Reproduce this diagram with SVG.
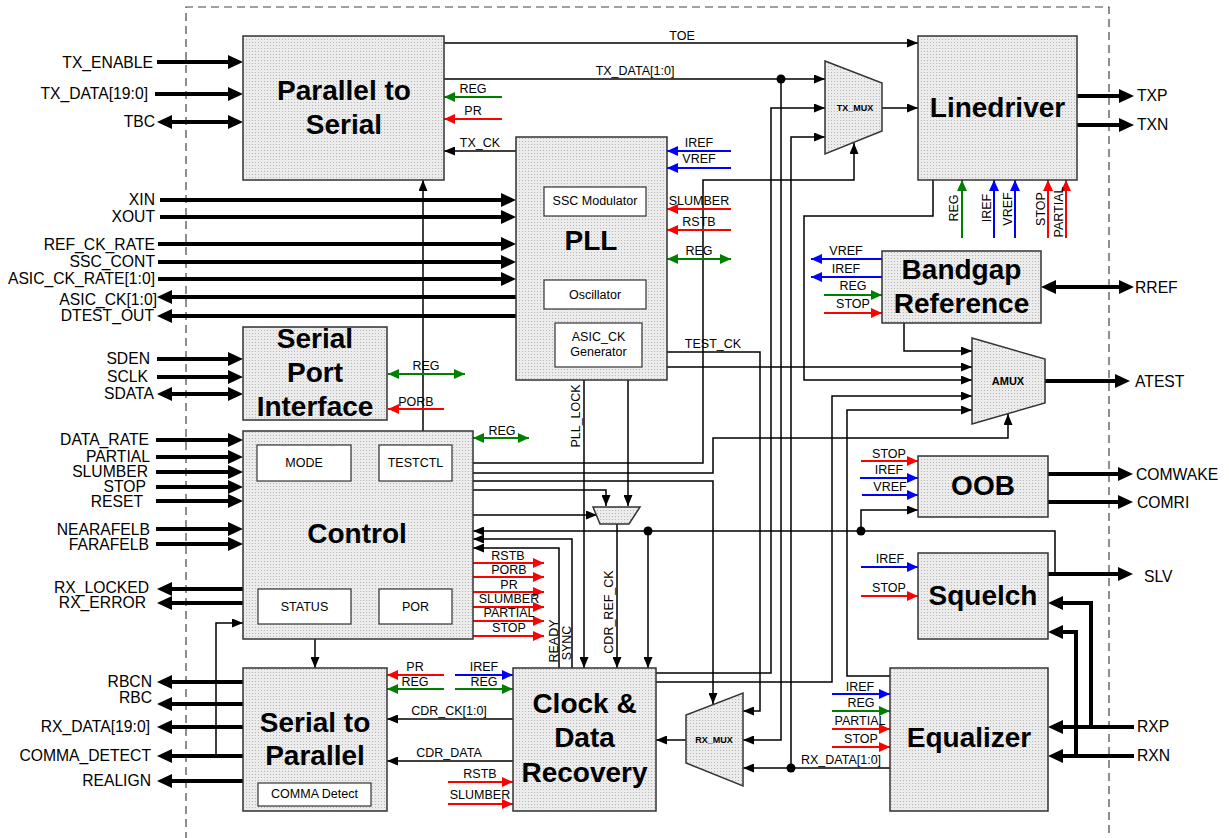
<svg xmlns="http://www.w3.org/2000/svg" width="1229" height="838" viewBox="0 0 1229 838">
<defs>
<pattern id="dots" width="3" height="3" patternUnits="userSpaceOnUse"><rect width="3" height="3" fill="#ececec"/><rect width="1" height="1" fill="#b5b5b5"/></pattern>
<marker id="mk" markerUnits="userSpaceOnUse" markerWidth="11" markerHeight="9" refX="11" refY="4.5" orient="auto-start-reverse"><path d="M0,0 L11,4.5 L0,9 z" fill="#000"/></marker>
<marker id="MK" markerUnits="userSpaceOnUse" markerWidth="15" markerHeight="14" refX="11" refY="7" orient="auto-start-reverse"><path d="M0,0 L15,7 L0,14 z" fill="#000"/></marker>
<marker id="mr" markerUnits="userSpaceOnUse" markerWidth="11" markerHeight="10" refX="11" refY="5" orient="auto-start-reverse"><path d="M0,0 L11,5 L0,10 z" fill="#ff0000"/></marker>
<marker id="mb" markerUnits="userSpaceOnUse" markerWidth="11" markerHeight="10" refX="11" refY="5" orient="auto-start-reverse"><path d="M0,0 L11,5 L0,10 z" fill="#0000ff"/></marker>
<marker id="mg" markerUnits="userSpaceOnUse" markerWidth="11" markerHeight="10" refX="11" refY="5" orient="auto-start-reverse"><path d="M0,0 L11,5 L0,10 z" fill="#008000"/></marker>
</defs>
<style>
text{font-family:"Liberation Sans",Arial,sans-serif;fill:#000}
.blk{fill:url(#dots);stroke:#333;stroke-width:1.5}
.sub{fill:#fff;stroke:#333;stroke-width:1.2}
.tt{font-weight:bold;font-size:28px;text-anchor:middle}
.st{font-size:12.5px;text-anchor:middle}
.mx{font-weight:bold;font-size:9px;text-anchor:middle}
.L{font-size:15.7px;text-anchor:end}
.R{font-size:15.7px;text-anchor:start}
.s{font-size:12.5px;text-anchor:middle}
.t{stroke:#000;stroke-width:1.5;fill:none;marker-end:url(#mk)}
.T{stroke:#000;stroke-width:4;fill:none;marker-end:url(#MK)}
.T2{marker-start:url(#MK)}
.r{stroke:#ff0000;stroke-width:2;fill:none;marker-end:url(#mr)}
.b{stroke:#0000ff;stroke-width:2;fill:none;marker-end:url(#mb)}
.g{stroke:#008000;stroke-width:2;fill:none;marker-end:url(#mg)}
.g2{marker-start:url(#mg)}
</style>
<rect width="1229" height="838" fill="#fff"/>
<path d="M186,840 V7 H1109 V840" fill="none" stroke="#444" stroke-width="1.2" stroke-dasharray="8,5"/>

<g id="connectors">
<path class="T" d="M157,62 H239"/>
<path class="T" d="M155,94 H239" stroke-width="5"/>
<path class="T T2" d="M161,122 H239"/>
<path class="T" d="M160,200 H512"/>
<path class="T" d="M160,217 H512"/>
<path class="T" d="M158,244 H512"/>
<path class="T" d="M158,262 H512"/>
<path class="T" d="M158,279 H512"/>
<path class="T" d="M516,297 H161"/>
<path class="T" d="M516,316 H161"/>
<path class="T" d="M157,359 H239"/>
<path class="T" d="M157,377 H239"/>
<path class="T T2" d="M161,394 H239"/>
<path class="T" d="M156,440 H239"/>
<path class="T" d="M156,457 H239"/>
<path class="T" d="M156,472 H239"/>
<path class="T" d="M156,487 H239"/>
<path class="T" d="M156,501 H239"/>
<path class="T" d="M156,529 H239"/>
<path class="T" d="M156,544 H239"/>
<path class="T" d="M243,589 H161"/>
<path class="T" d="M243,603 H161"/>
<path class="T" d="M243,682 H161"/>
<path class="T" d="M243,704 H161"/>
<path class="T" d="M243,727 H161" stroke-width="5"/>
<path class="T" d="M243,756 H161"/>
<path class="T" d="M243,781 H161"/>
<path class="T" d="M1077,96 H1130"/>
<path class="T" d="M1077,125 H1130"/>
<path class="T T2" d="M1045,287 H1130"/>
<path class="T" d="M1045,381 H1126"/>
<path class="T" d="M1048,474 H1129"/>
<path class="T" d="M1048,502 H1129"/>
<path class="T" d="M1048,574 H1129"/>
<path class="T" d="M1134,727 H1052"/>
<path class="T" d="M1091,727 V603 H1052"/>
<path class="T" d="M1134,756 H1052"/>
<path class="T" d="M1076,756 V632 H1052"/>
<path class="t" d="M444,43 H918"/>
<path class="t" d="M444,79 H825"/>
<path class="t" d="M516,151 H444"/>
<path class="t" d="M423,431 V180"/>
<path class="t" d="M882,108 H918"/>
<path class="t" d="M656,673 H771 V108 H825"/>
<path class="t" d="M791,768 V137 H825"/>
<path class="t" d="M781,79 V740 H743"/>
<path class="t" d="M473,463 H703 V180 H854 V143"/>
<path class="t" d="M933,180 V216 H804 V380 H972"/>
<path class="t" d="M904,323 V351 H972"/>
<path class="t" d="M667,367 H972"/>
<path class="t" d="M656,682 H832 V396 H972"/>
<path class="t" d="M890,676 H847 V410 H972"/>
<path class="t" d="M473,473 H713 V438 H1008 V414"/>
<path class="t" d="M473,481 H713 V704"/>
<path class="t" d="M667,352 H760 V711 H743"/>
<path class="t" d="M890,768 H743"/>
<path class="t" d="M686,740 H656"/>
<path class="t" d="M473,490 H606 V506"/>
<path class="t" d="M628,380 V506"/>
<path class="t" d="M473,515 H597"/>
<path class="t" d="M617,524 V668"/>
<path class="t" d="M584,380 V668"/>
<path class="t" d="M559,668 V548 H473"/>
<path class="t" d="M572,668 V539 H473"/>
<path class="t" d="M1055,574 V531 H473"/>
<path class="t" d="M648,531 V668"/>
<path class="t" d="M861,531 V510 H918"/>
<path class="t" d="M216,756 V623 H243"/>
<path class="t" d="M315,639 V668"/>
<path class="t" d="M513,719 H387"/>
<path class="t" d="M513,761 H387"/>
<circle cx="781" cy="79" r="4.5"/>
<circle cx="791" cy="768" r="4.5"/>
<circle cx="861" cy="531" r="4.5"/>
<circle cx="648" cy="531" r="4.5"/>
<path class="r" d="M502,119 H444"/>
<path class="r" d="M731,209 H667"/>
<path class="r" d="M731,230 H667"/>
<path class="r" d="M1048,238 V180"/>
<path class="r" d="M1066,238 V180"/>
<path class="r" d="M824,313 H882"/>
<path class="r" d="M444,409 H388"/>
<path class="r" d="M473,563 H544"/>
<path class="r" d="M473,577 H544"/>
<path class="r" d="M473,592 H544"/>
<path class="r" d="M473,607 H544"/>
<path class="r" d="M473,621 H544"/>
<path class="r" d="M473,636 H544"/>
<path class="r" d="M861,461 H918"/>
<path class="r" d="M861,596 H918"/>
<path class="r" d="M832,729 H890"/>
<path class="r" d="M832,747 H890"/>
<path class="r" d="M444,675 H387"/>
<path class="r" d="M448,782 H513"/>
<path class="r" d="M448,804 H513"/>
<path class="b" d="M731,151 H667"/>
<path class="b" d="M731,168 H667"/>
<path class="b" d="M994,238 V180"/>
<path class="b" d="M1015,238 V180"/>
<path class="b" d="M882,259 H811"/>
<path class="b" d="M882,277 H811"/>
<path class="b" d="M860,478 H918"/>
<path class="b" d="M862,495 H918"/>
<path class="b" d="M861,567 H918"/>
<path class="b" d="M832,694 H890"/>
<path class="b" d="M455,675 H513"/>
<path class="g" d="M502,97 H444"/>
<path class="g g2" d="M667,259 H731"/>
<path class="g" d="M962,238 V180"/>
<path class="g" d="M824,295 H882"/>
<path class="g g2" d="M388,374 H465"/>
<path class="g g2" d="M473,438 H529"/>
<path class="g" d="M832,711 H890"/>
<path class="g" d="M444,689 H387"/>
<path class="g" d="M455,689 H513"/>
</g>

<g id="connector-labels">
<text class="L" x="153" y="68">TX_ENABLE</text>
<text class="L" x="148" y="99">TX_DATA[19:0]</text>
<text class="L" x="155" y="127">TBC</text>
<text class="L" x="155" y="205">XIN</text>
<text class="L" x="155" y="222">XOUT</text>
<text class="L" x="155" y="250">REF_CK_RATE</text>
<text class="L" x="155" y="267">SSC_CONT</text>
<text class="L" x="155" y="284">ASIC_CK_RATE[1:0]</text>
<text class="L" x="157" y="305">ASIC_CK[1:0]</text>
<text class="L" x="154" y="321">DTEST_OUT</text>
<text class="L" x="150" y="364">SDEN</text>
<text class="L" x="148" y="382">SCLK</text>
<text class="L" x="154" y="399">SDATA</text>
<text class="L" x="149" y="445">DATA_RATE</text>
<text class="L" x="150" y="462">PARTIAL</text>
<text class="L" x="148" y="477">SLUMBER</text>
<text class="L" x="146" y="492">STOP</text>
<text class="L" x="143" y="507">RESET</text>
<text class="L" x="150" y="535">NEARAFELB</text>
<text class="L" x="149" y="550">FARAFELB</text>
<text class="L" x="149" y="593">RX_LOCKED</text>
<text class="L" x="146" y="608">RX_ERROR</text>
<text class="L" x="152" y="687">RBCN</text>
<text class="L" x="152" y="703">RBC</text>
<text class="L" x="150" y="732">RX_DATA[19:0]</text>
<text class="L" x="151" y="761">COMMA_DETECT</text>
<text class="L" x="151" y="786">REALIGN</text>
<text class="R" x="1137" y="101">TXP</text>
<text class="R" x="1137" y="130">TXN</text>
<text class="R" x="1135" y="293">RREF</text>
<text class="R" x="1135" y="387">ATEST</text>
<text class="R" x="1136" y="480">COMWAKE</text>
<text class="R" x="1137" y="508">COMRI</text>
<text class="R" x="1144" y="582">SLV</text>
<text class="R" x="1137" y="732">RXP</text>
<text class="R" x="1137" y="761">RXN</text>
<text class="s" x="682" y="40">TOE</text>
<text class="s" x="635" y="75">TX_DATA[1:0]</text>
<text class="s" x="473" y="93">REG</text>
<text class="s" x="473" y="115">PR</text>
<text class="s" x="480" y="147">TX_CK</text>
<text class="s" x="699" y="147">IREF</text>
<text class="s" x="699" y="163">VREF</text>
<text class="s" x="699" y="205">SLUMBER</text>
<text class="s" x="699" y="226">RSTB</text>
<text class="s" x="699" y="255">REG</text>
<text class="s" x="713" y="348">TEST_CK</text>
<text class="s" x="846" y="255">VREF</text>
<text class="s" x="846" y="273">IREF</text>
<text class="s" x="853" y="290">REG</text>
<text class="s" x="853" y="308">STOP</text>
<text class="s" x="889" y="458">STOP</text>
<text class="s" x="889" y="474">IREF</text>
<text class="s" x="890" y="491">VREF</text>
<text class="s" x="890" y="563">IREF</text>
<text class="s" x="889" y="592">STOP</text>
<text class="s" x="860" y="691">IREF</text>
<text class="s" x="861" y="707">REG</text>
<text class="s" x="860" y="725">PARTIAL</text>
<text class="s" x="861" y="743">STOP</text>
<text class="s" x="841" y="764">RX_DATA[1:0]</text>
<text class="s" x="426" y="370">REG</text>
<text class="s" x="416" y="406">PORB</text>
<text class="s" x="502" y="435">REG</text>
<text class="s" x="508" y="560">RSTB</text>
<text class="s" x="509" y="574">PORB</text>
<text class="s" x="509" y="589">PR</text>
<text class="s" x="509" y="603">SLUMBER</text>
<text class="s" x="509" y="617">PARTIAL</text>
<text class="s" x="509" y="632">STOP</text>
<text class="s" x="415" y="671">PR</text>
<text class="s" x="415" y="686">REG</text>
<text class="s" x="484" y="671">IREF</text>
<text class="s" x="484" y="686">REG</text>
<text class="s" x="449" y="715">CDR_CK[1:0]</text>
<text class="s" x="449" y="757">CDR_DATA</text>
<text class="s" x="480" y="778">RSTB</text>
<text class="s" x="480" y="799">SLUMBER</text>
<text class="s" transform="translate(580,416) rotate(-90)">PLL_LOCK</text>
<text class="s" transform="translate(558,641) rotate(-90)">READY</text>
<text class="s" transform="translate(571,643) rotate(-90)">SYNC</text>
<text class="s" transform="translate(613,612) rotate(-90)">CDR_REF_CK</text>
<text class="s" transform="translate(958,208) rotate(-90)">REG</text>
<text class="s" transform="translate(991,208) rotate(-90)">IREF</text>
<text class="s" transform="translate(1012,209) rotate(-90)">VREF</text>
<text class="s" transform="translate(1045,209) rotate(-90)">STOP</text>
<text class="s" transform="translate(1063,212) rotate(-90)">PARTIAL</text>
</g>

<g id="parallel-to-serial">
<rect class="blk" x="243" y="36" width="201" height="144"/>
<text class="tt" x="344" y="100">Parallel to</text>
<text class="tt" x="344" y="134">Serial</text>
</g>
<g id="pll">
<rect class="blk" x="516" y="137" width="151" height="243"/>
<rect class="sub" x="544" y="187" width="102" height="29"/>
<text class="st" x="595" y="205">SSC Modulator</text>
<text class="tt" x="591" y="250">PLL</text>
<rect class="sub" x="544" y="280" width="102" height="29"/>
<text class="st" x="595" y="299">Oscillator</text>
<rect class="sub" x="555" y="323" width="87" height="44"/>
<text class="st" x="598.5" y="341">ASIC_CK</text>
<text class="st" x="598.5" y="356">Generator</text>
</g>
<g id="linedriver">
<rect class="blk" x="918" y="36" width="159" height="144"/>
<text class="tt" x="997.5" y="117">Linedriver</text>
</g>
<g id="tx-mux">
<polygon class="blk" points="825,61 882,83 882,131 825,154"/>
<text class="mx" x="855" y="111">TX_MUX</text>
</g>
<g id="bandgap-reference">
<rect class="blk" x="882" y="251" width="159" height="72"/>
<text class="tt" x="961.5" y="279">Bandgap</text>
<text class="tt" x="961.5" y="313">Reference</text>
</g>
<g id="amux">
<polygon class="blk" points="972,338 1045,359 1045,403 972,424"/>
<text class="mx" x="1008" y="385" style="font-size:11px">AMUX</text>
</g>
<g id="oob">
<rect class="blk" x="918" y="456" width="130" height="61"/>
<text class="tt" x="983" y="495">OOB</text>
</g>
<g id="squelch">
<rect class="blk" x="918" y="553" width="130" height="86"/>
<text class="tt" x="983" y="605">Squelch</text>
</g>
<g id="equalizer">
<rect class="blk" x="890" y="668" width="158" height="143"/>
<text class="tt" x="969" y="747">Equalizer</text>
</g>
<g id="rx-mux">
<polygon class="blk" points="743,693 743,786 686,763 686,715"/>
<text class="mx" x="714" y="743">RX_MUX</text>
</g>
<g id="clock-data-recovery">
<rect class="blk" x="513" y="668" width="143" height="143"/>
<text class="tt" x="584.5" y="713">Clock &amp;</text>
<text class="tt" x="584.5" y="747">Data</text>
<text class="tt" x="584.5" y="782">Recovery</text>
</g>
<g id="serial-to-parallel">
<rect class="blk" x="243" y="668" width="144" height="143"/>
<text class="tt" x="315" y="732">Serial to</text>
<text class="tt" x="315" y="765">Parallel</text>
<rect class="sub" x="258" y="783" width="113" height="23"/>
<text class="st" x="314.5" y="798">COMMA Detect</text>
</g>
<g id="serial-port-interface">
<rect class="blk" x="243" y="327" width="144" height="93"/>
<text class="tt" x="315" y="348">Serial</text>
<text class="tt" x="315" y="382">Port</text>
<text class="tt" x="315" y="416">Interface</text>
</g>
<g id="control">
<rect class="blk" x="243" y="431" width="230" height="208"/>
<rect class="sub" x="257" y="445" width="94" height="36"/>
<text class="st" x="304" y="467">MODE</text>
<rect class="sub" x="379" y="445" width="73" height="36"/>
<text class="st" x="415.5" y="467">TESTCTL</text>
<text class="tt" x="357" y="543">Control</text>
<rect class="sub" x="258" y="589" width="93" height="35"/>
<text class="st" x="304.5" y="611">STATUS</text>
<rect class="sub" x="379" y="589" width="73" height="35"/>
<text class="st" x="415.5" y="611">POR</text>
</g>
<g id="small-mux">
<polygon class="blk" points="593,507 640,507 629,524 600,524"/>
</g>
</svg>
